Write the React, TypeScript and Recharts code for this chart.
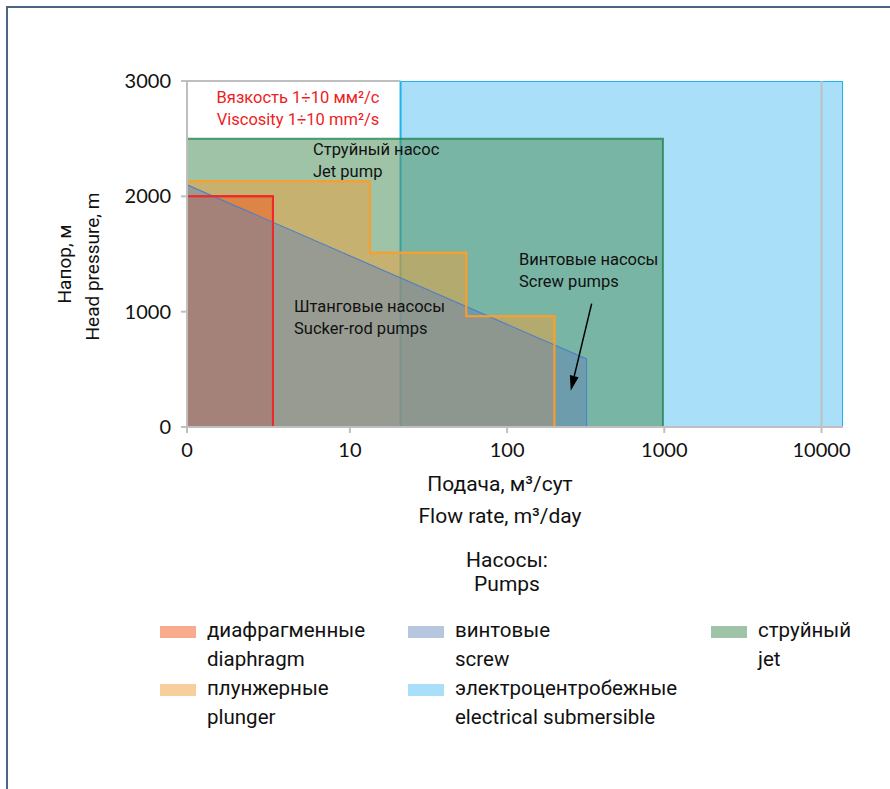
import React from "react";
import { ComposedChart, Area, XAxis, YAxis, ReferenceLine, Legend } from "recharts";

// left end of the log flow axis (labelled "0") and right end
const X_ZERO = 0.92;
const X_MAX = 13700;

const flowTicks = [X_ZERO, 10, 100, 1000, 10000];
const flowTickLabels = ["0", "10", "100", "1000", "10000"];
const headTicks = [0, 1000, 2000, 3000];

// operating envelopes: q = flow rate, m3/day; h = head, m
const electric = [
  { q: 21, h: 0 },
  { q: 21, h: 3000 },
  { q: X_MAX, h: 3000 },
  { q: X_MAX, h: 0 },
];
const jet = [
  { q: X_ZERO, h: 2500 },
  { q: 980, h: 2500 },
  { q: 980, h: 0 },
];
const plunger = [
  { q: X_ZERO, h: 2130 },
  { q: 13.4, h: 2130 },
  { q: 13.4, h: 1510 },
  { q: 55, h: 1510 },
  { q: 55, h: 960 },
  { q: 200, h: 960 },
  { q: 200, h: 0 },
];
const diaphragm = [
  { q: X_ZERO, h: 2000 },
  { q: 3.24, h: 2000 },
  { q: 3.24, h: 0 },
];
const screw = [
  { q: X_ZERO, h: 2100 },
  { q: 320, h: 590 },
  { q: 320, h: 0 },
];

// plot border over the viscosity note, gridline, and the screw-pump pointer
const viscosityEdge = [
  { q: X_ZERO, h: 3000 },
  { q: 21, h: 3000 },
];
const gridFlow = [10000];
const screwArrow = [
  { q: 345, h: 1070 },
  { q: 254, h: 315 },
];

const STYLE = {
  electric: { fill: "#a9dff9", opacity: 1, stroke: "#1eb3ef", strokeOpacity: 1, width: 2 },
  jet: { fill: "#50925f", opacity: 0.55, stroke: "#1a8048", strokeOpacity: 0.75, width: 2 },
  plunger: { fill: "#eda03c", opacity: 0.5, stroke: "#f5a030", strokeOpacity: 1, width: 2 },
  diaphragm: { fill: "#f3571d", opacity: 0.5, stroke: "#f0282c", strokeOpacity: 1, width: 2 },
  screw: { fill: "#5f80b9", opacity: 0.45, stroke: "#4f7fc4", strokeOpacity: 1, width: 1.1 },
};

const legendItems = [
  { key: "diaphragm", ru: "диафрагменные", en: "diaphragm" },
  { key: "plunger", ru: "плунжерные", en: "plunger" },
  { key: "screw", ru: "винтовые", en: "screw" },
  { key: "electric", ru: "электроцентробежные", en: "electrical submersible" },
  { key: "jet", ru: "струйный", en: "jet" },
] as const;

const AXIS = "#bfbfbf";
const TEXT = "#111";

const ArrowShape = (props: any) => {
  const { x1, y1, x2, y2 } = props;
  const dx = x2 - x1;
  const dy = y2 - y1;
  const len = Math.hypot(dx, dy) || 1;
  const ux = dx / len;
  const uy = dy / len;
  const head = 15;
  const half = 4.5;
  const bx = x2 - ux * head;
  const by = y2 - uy * head;
  return (
    <g>
      <line x1={x1} y1={y1} x2={bx} y2={by} stroke="#000" strokeWidth={1.5} />
      <polygon
        points={`${x2},${y2} ${bx - uy * half},${by + ux * half} ${bx + uy * half},${by - ux * half}`}
        fill="#000"
      />
    </g>
  );
};

const PumpLegend = () => (
  <div
    style={{
      display: "grid",
      gridTemplateColumns: "248px 303px 180px",
      gridTemplateRows: "58px 58px",
      gridAutoFlow: "column",
      fontFamily: "Roboto",
      fontSize: 20.5,
      lineHeight: "28.8px",
      color: TEXT,
    }}
  >
    {legendItems.map((item) => {
      const s = STYLE[item.key];
      return (
        <div key={item.key} style={{ display: "flex" }}>
          <span
            style={{
              flex: "none",
              width: 36,
              height: 12,
              marginTop: 9.6,
              marginRight: 11,
              background: s.fill,
              opacity: s.opacity,
            }}
          />
          <div>
            <div>{item.ru}</div>
            <div>{item.en}</div>
          </div>
        </div>
      );
    })}
  </div>
);

function envelope(name: keyof typeof STYLE, data: { q: number; h: number }[]) {
  const s = STYLE[name];
  return (
    <Area
      key={name}
      name={name}
      data={data}
      dataKey="h"
      type="linear"
      fill={s.fill}
      fillOpacity={s.opacity}
      stroke={s.stroke}
      strokeOpacity={s.strokeOpacity}
      strokeWidth={s.width}
      dot={false}
      activeDot={false}
      isAnimationActive={false}
    />
  );
}

// border only, redrawn above the screw fill
function outline(name: keyof typeof STYLE, data: { q: number; h: number }[]) {
  const s = STYLE[name];
  return (
    <Area
      key={name + "-edge"}
      data={data}
      dataKey="h"
      type="linear"
      fill="none"
      stroke={s.stroke}
      strokeWidth={s.width}
      legendType="none"
      dot={false}
      activeDot={false}
      isAnimationActive={false}
    />
  );
}

export default function App() {
  return (
    <div
      style={{
        position: "absolute",
        left: 0,
        top: 0,
        width: 890,
        height: 789,
        background: "#fff",
        overflow: "hidden",
      }}
    >
      <div
        style={{
          position: "absolute",
          left: 6,
          top: 6,
          width: 900,
          height: 800,
          borderLeft: "2px solid #4b6584",
          borderTop: "2px solid #4b6584",
        }}
      />
      <div style={{ position: "absolute", left: 0, top: 0 }}>
        <ComposedChart width={890} height={789} margin={{ top: 81, right: 47, bottom: 332, left: 0 }}>
          <XAxis
            dataKey="q"
            type="number"
            scale="log"
            domain={[X_ZERO, X_MAX]}
            allowDataOverflow
            ticks={flowTicks}
            tickFormatter={(v: number) => flowTickLabels[flowTicks.indexOf(v)] ?? String(v)}
            interval={0}
            height={30}
            tickSize={6}
            tickMargin={10}
            axisLine={{ stroke: AXIS, strokeWidth: 2 }}
            tickLine={{ stroke: AXIS, strokeWidth: 2 }}
            tick={{ fill: TEXT, fontSize: 20, fontFamily: "Lato" }}
          />
          <YAxis
            type="number"
            domain={[0, 3000]}
            allowDataOverflow
            ticks={headTicks}
            interval={0}
            width={187}
            tickSize={6}
            tickMargin={10}
            axisLine={{ stroke: AXIS, strokeWidth: 2 }}
            tickLine={{ stroke: AXIS, strokeWidth: 2 }}
            tick={{ fill: TEXT, fontSize: 20, fontFamily: "Lato" }}
          />
          {envelope("electric", electric)}
          {envelope("jet", jet)}
          {envelope("plunger", plunger)}
          {envelope("diaphragm", diaphragm)}
          {envelope("screw", screw)}
          {outline("plunger", plunger)}
          {outline("diaphragm", diaphragm)}
          <ReferenceLine
            segment={viscosityEdge.map((p) => ({ x: p.q, y: p.h }))}
            stroke={AXIS}
            strokeWidth={2}
          />
          {gridFlow.map((v) => (
            <ReferenceLine key={v} x={v} stroke="#c0c0c0" strokeWidth={2} />
          ))}
          <ReferenceLine
            segment={screwArrow.map((p) => ({ x: p.q, y: p.h }))}
            shape={ArrowShape}
            ifOverflow="visible"
          />
          <Legend
            layout="horizontal"
            verticalAlign="middle"
            align="center"
            content={() => <PumpLegend />}
            wrapperStyle={{ left: 160, top: 616, width: 730 }}
          />
        </ComposedChart>
      </div>
      <svg
        width={890}
        height={789}
        style={{ position: "absolute", left: 0, top: 0, pointerEvents: "none" }}
        fontFamily="Roboto"
      >
        <g fill="#ee1d23" fontSize={16.5} textAnchor="middle">
          <text x={298} y={102.7}>Вязкость 1÷10 мм²/с</text>
          <text x={298} y={125}>Viscosity 1÷10 mm²/s</text>
        </g>
        <g fill={TEXT} fontSize={16.5}>
          <text x={313} y={155}>Струйный насос</text>
          <text x={313} y={177.3}>Jet pump</text>
          <text x={294} y={312.3}>Штанговые насосы</text>
          <text x={294} y={334}>Sucker-rod pumps</text>
          <text x={519} y={265}>Винтовые насосы</text>
          <text x={519} y={287.3}>Screw pumps</text>
        </g>
        <g fill={TEXT} fontSize={21} textAnchor="middle">
          <text x={500} y={490.7}>Подача, м³/сут</text>
          <text x={500} y={523}>Flow rate, m³/day</text>
          <text x={507} y={567.3}>Насосы:</text>
          <text x={507} y={591}>Pumps</text>
        </g>
        <g fill={TEXT} fontSize={19} textAnchor="middle">
          <text transform="translate(70.5,264) rotate(-90)">Напор, м</text>
          <text transform="translate(98.5,266.5) rotate(-90)">Head pressure, m</text>
        </g>
      </svg>
    </div>
  );
}
